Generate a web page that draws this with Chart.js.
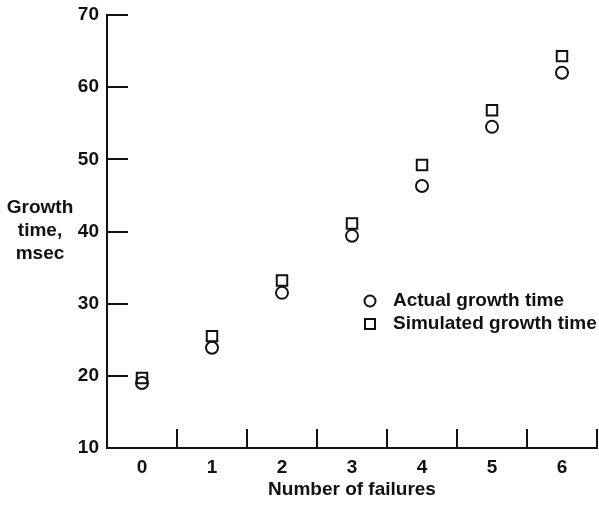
<!DOCTYPE html>
<html>
<head>
<meta charset="utf-8">
<script src="https://cdn.jsdelivr.net/npm/chart.js@4.4.1/dist/chart.umd.min.js"></script>
<style>
  html, body { margin: 0; padding: 0; background: #ffffff; }
  #wrap { width: 599px; height: 505px; position: relative; }
</style>
</head>
<body>
<div id="wrap"><canvas id="c" width="599" height="505"></canvas></div>
<script>
// Growth time against number of failures
const failures = [0, 1, 2, 3, 4, 5, 6];
const actualTime = [19.0, 23.9, 31.5, 39.4, 46.3, 54.5, 62.0];
const simulatedTime = [19.7, 25.5, 33.2, 41.1, 49.2, 56.8, 64.3];
const yTicks = [10, 20, 30, 40, 50, 60, 70];
const yTitleLines = ['Growth', 'time,', 'msec'];
const xTitle = 'Number of failures';
const seriesNames = ['Actual growth time', 'Simulated growth time'];

const INK = '#111111';
const FONT = { family: "'Liberation Sans', Arial, Helvetica, sans-serif", size: 19, weight: 'bold' };
const FONT_CSS = "bold 19px 'Liberation Sans', Arial, Helvetica, sans-serif";

// Inward tick marks, the stacked y title and the in-plot key
const decorations = {
  id: 'decorations',
  afterDraw(chart) {
    const { ctx, chartArea, scales } = chart;
    const xs = scales.x, ys = scales.y;
    ctx.save();
    ctx.strokeStyle = INK;
    ctx.lineWidth = 2;
    ctx.beginPath();
    yTicks.forEach(v => {
      const py = Math.round(ys.getPixelForValue(v));
      ctx.moveTo(chartArea.left, py);
      ctx.lineTo(chartArea.left + 21, py);
    });
    failures.forEach(v => {
      const px = Math.round(xs.getPixelForValue(v + 0.5));
      ctx.moveTo(px, chartArea.bottom);
      ctx.lineTo(px, chartArea.bottom - 19);
    });
    ctx.stroke();

    // y-axis title, three centred lines
    ctx.fillStyle = INK;
    ctx.font = FONT_CSS;
    ctx.textAlign = 'center';
    ctx.textBaseline = 'middle';
    yTitleLines.forEach((t, i) => ctx.fillText(t, 40, 208 + i * 23));

    // key
    const keyX = 370, keyY = [301, 324];
    ctx.lineWidth = 2;
    ctx.beginPath();
    ctx.arc(keyX, keyY[0], 5.5, 0, Math.PI * 2);
    ctx.stroke();
    ctx.strokeRect(keyX - 5, keyY[1] - 5, 10, 10);
    ctx.textAlign = 'left';
    seriesNames.forEach((t, i) => ctx.fillText(t, 393, keyY[i]));
    ctx.restore();
  }
};

new Chart(document.getElementById('c'), {
  type: 'scatter',
  data: {
    datasets: [
      {
        label: seriesNames[0],
        data: failures.map((f, i) => ({ x: f, y: actualTime[i] })),
        pointStyle: 'circle',
        pointRadius: 6,
        pointBorderWidth: 2,
        borderColor: INK,
        backgroundColor: 'rgba(0,0,0,0)'
      },
      {
        label: seriesNames[1],
        data: failures.map((f, i) => ({ x: f, y: simulatedTime[i] })),
        pointStyle: 'rect',
        pointRadius: 7.4,
        pointBorderWidth: 2,
        borderColor: INK,
        backgroundColor: 'rgba(0,0,0,0)'
      }
    ]
  },
  options: {
    responsive: false,
    animation: false,
    events: [],
    layout: { autoPadding: false, padding: { top: 15, right: 2, bottom: 0, left: 0 } },
    plugins: { legend: { display: false }, tooltip: { enabled: false } },
    scales: {
      x: {
        type: 'linear',
        min: -0.5,
        max: 6.5,
        afterBuildTicks: s => { s.ticks = failures.map(v => ({ value: v })); },
        afterFit: s => { s.height = 57; s.paddingLeft = 0; s.paddingRight = 0; },
        grid: { display: false, drawTicks: false },
        border: { display: true, color: INK, width: 2 },
        ticks: { color: INK, font: FONT, padding: 8 },
        title: { display: true, text: xTitle, color: INK, font: FONT, padding: { top: 0, bottom: 4 } }
      },
      y: {
        type: 'linear',
        min: 10,
        max: 70,
        afterBuildTicks: s => { s.ticks = yTicks.map(v => ({ value: v })); },
        afterFit: s => { s.width = 107; s.paddingTop = 0; s.paddingBottom = 0; },
        grid: { display: false, drawTicks: false },
        border: { display: true, color: INK, width: 2 },
        ticks: { color: INK, font: FONT, padding: 8 }
      }
    }
  },
  plugins: [decorations]
});
</script>
</body>
</html>
